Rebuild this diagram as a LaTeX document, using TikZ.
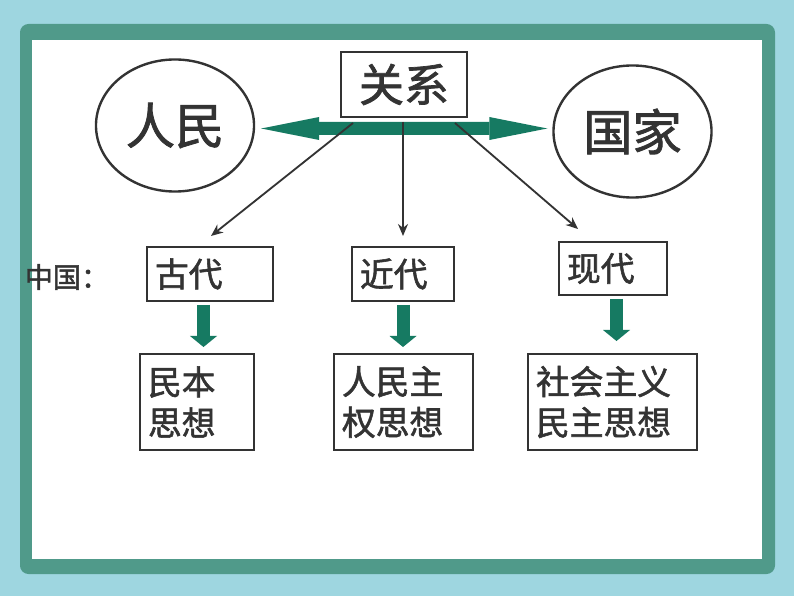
\documentclass[tikz,border=0pt]{standalone}
\usepackage{fontspec}
\setmainfont{Noto Sans CJK SC}[BoldFont={Noto Sans CJK SC},BoldFeatures={FakeBold=1.6}]
\usepackage{xcolor}
\usetikzlibrary{arrows.meta}
\usetikzlibrary{shapes.geometric}
\definecolor{bgteal}{RGB}{158,214,224}
\definecolor{frameteal}{RGB}{80,154,138}
\definecolor{arrowgreen}{RGB}{22,122,98}
\definecolor{inkgray}{RGB}{51,51,51}

\begin{document}
\begin{tikzpicture}[x=0.025cm,y=-0.025cm,
  box/.style={draw=inkgray,line width=1.4pt,fill=white,text=inkgray,inner xsep=0.2cm,inner ysep=0pt,align=left,font=\fontsize{24}{29}\selectfont\bfseries},
  oval/.style={draw=inkgray,line width=1.7pt,ellipse,inner sep=0pt,text=inkgray,minimum width=3.95cm,minimum height=3.3cm,font=\fontsize{35}{40}\selectfont\bfseries},
  link/.style={inkgray,line width=1.3pt,-{Stealth[length=0.3cm,width=0.25cm]}},
  garrow/.style={arrowgreen,line width=0.325cm,-{Triangle[length=0.275cm,width=0.675cm,line width=0pt]}},
  harrow/.style={arrowgreen,line width=0.325cm,{Triangle[length=1.45cm,width=0.575cm,line width=0pt]}-{Triangle[length=1.45cm,width=0.575cm,line width=0pt]}}]
\useasboundingbox (0,0) rectangle (794,596);
% background and frame
\fill[bgteal] (0,0) rectangle (794,596);
\fill[frameteal,rounded corners=6] (20,24) rectangle (775,574);
\fill[white] (32,40) rectangle (762,559);

% top row
\node[oval] (rm) at (175,125.5) {人民};
\node[oval] (gj) at (632.5,131.5) {国家};
\node[box,align=center,minimum width=3.15cm,minimum height=1.625cm,font=\fontsize{32}{36}\selectfont\bfseries] (rel) at (404,84.5) {关系};
\draw[harrow,shorten <=0.15cm,shorten >=0.125cm] ([yshift=-0.075cm]rm.east) -- ([yshift=0.075cm]gj.west);

% periods
\node[text=inkgray,font=\fontsize{20}{24}\selectfont\bfseries] (zg) at (67,277) {中国：};
\node[box,text width=2.75cm,minimum height=1.35cm] (gu) at (210,274) {古代};
\node[box,text width=2.15cm,minimum height=1.35cm] (jd) at (403,274) {近代};
\node[box,text width=2.3cm,minimum height=1.325cm] (xd) at (613,268.5) {现代};

% ideas
\node[box,text width=2.45cm,minimum height=2.4cm] (mb) at (197,402) {民本\\思想};
\node[box,text width=3.075cm,minimum height=2.4cm] (rq) at (403.5,402) {人民主\\权思想};
\node[box,text width=3.825cm,minimum height=2.4cm] (sh) at (612.5,402) {社会主义\\民主思想};

% thin arrows from the relation
\coordinate (s1) at (353,123);
\coordinate (s2) at (403,122);
\coordinate (s3) at (455,123);
\coordinate (e1) at (211,236);
\coordinate (e2) at (403,236);
\coordinate (e3) at (578,229);
\draw[link] (s1) -- (e1);
\draw[link] (s2) -- (e2);
\draw[link] (s3) -- (e3);

% green arrows down
\draw[garrow,shorten <=0.075cm,shorten >=0.15cm] (gu.south -| 203.5,0) -- (mb.north -| 203.5,0);
\draw[garrow,shorten <=0.075cm,shorten >=0.15cm] (jd.south) -- (rq.north -| jd.south);
\draw[garrow,shorten <=0.075cm,shorten >=0.3cm] (xd.south -| 616.5,0) -- (sh.north -| 616.5,0);
\end{tikzpicture}
\end{document}
